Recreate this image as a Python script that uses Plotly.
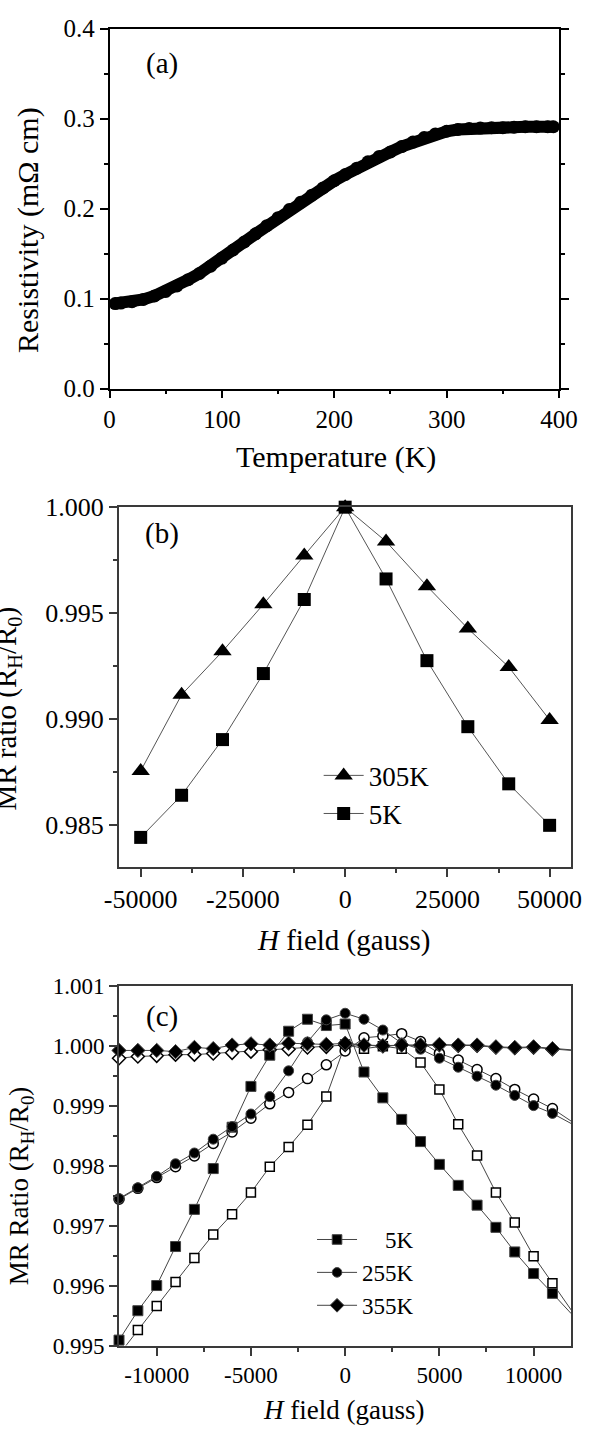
import plotly.graph_objects as go

# ---------------- data ----------------
# (a) resistivity vs temperature
temp_K = [5, 10, 20, 30, 40, 50, 60, 70, 80, 90, 100, 110, 120, 130, 140, 150, 160, 170,
          180, 190, 200, 210, 220, 230, 240, 250, 260, 270, 280, 290, 300, 310, 320, 330,
          340, 350, 360, 370, 380, 390, 395]
resistivity = [0.0945, 0.095, 0.0965, 0.099, 0.103, 0.108, 0.114, 0.121, 0.128, 0.136, 0.145,
               0.154, 0.163, 0.172, 0.181, 0.190, 0.199, 0.207, 0.215, 0.223, 0.231, 0.238,
               0.245, 0.252, 0.258, 0.263, 0.269, 0.274, 0.279, 0.283, 0.286, 0.288, 0.289,
               0.2895, 0.290, 0.290, 0.2905, 0.291, 0.291, 0.291, 0.291]

# (b) MR ratio vs field
field_b = [-50000, -40000, -30000, -20000, -10000, 0, 10000, 20000, 30000, 40000, 50000]
mr_305K = [0.98754, 0.99114, 0.99319, 0.99541, 0.99772, 1.0000, 0.99838, 0.99627, 0.99427,
           0.99245, 0.98995]
mr_5K_b = [0.98440, 0.98639, 0.98902, 0.99214, 0.99564, 1.0000, 0.99661, 0.99275, 0.98963,
           0.98693, 0.98497]
ticks_b = [-50000, -25000, 0, 25000, 50000]
ticklabels_b = ["-50000", "-25000", "0", "25000", "50000"]

# (c) MR ratio vs field, low field
field_c = [-12000, -11000, -10000, -9000, -8000, -7000, -6000, -5000, -4000, -3000, -2000,
           -1000, 0, 1000, 2000, 3000, 4000, 5000, 6000, 7000, 8000, 9000, 10000, 11000, 12000]
mr_5K_up = [0.99509, 0.99558, 0.99600, 0.99665, 0.99727, 0.99795, 0.99864, 0.99932, 0.99984,
            1.00024, 1.00044, 1.000335, 1.00036, 0.99956, 0.99913, 0.99877, 0.99840, 0.99802,
            0.99767, 0.99734, 0.99697, 0.99656, 0.99620, 0.99587, 0.99553]
mr_5K_dn = [0.99485, 0.99526, 0.99566, 0.99606, 0.99646, 0.99685, 0.99719, 0.99755, 0.99798,
            0.99831, 0.99868, 0.99915, 1.00002, 0.99995, 0.99999, 0.99995, 0.99972, 0.99927,
            0.99869, 0.99817, 0.99755, 0.99705, 0.99649, 0.99604, 0.99559]
mr_255K_up = [0.99745, 0.99763, 0.99782, 0.99803, 0.99821, 0.99844, 0.99865, 0.99886, 0.99915,
              0.99958, 1.00006, 1.00043, 1.00054, 1.00044, 1.00026, 1.00004, 0.99994, 0.99979,
              0.99964, 0.99949, 0.99934, 0.99917, 0.99900, 0.99887, 0.99870]
mr_255K_dn = [0.99744, 0.99762, 0.99780, 0.99798, 0.99816, 0.99837, 0.99856, 0.99879, 0.99903,
              0.99922, 0.99945, 0.99968, 0.99991, 1.00013, 1.00016, 1.00020, 1.00007, 0.99987,
              0.99976, 0.99960, 0.99945, 0.99927, 0.99911, 0.99895, 0.99874]
mr_355K_up = [0.99992, 0.99992, 0.99992, 0.99990, 0.99997, 0.99995, 1.00001, 1.00003, 1.00001,
              1.00004, 1.00003, 1.00002, 1.00004, 1.00001, 1.00000, 1.00001, 1.00001, 1.00002,
              1.00001, 1.00001, 0.99998, 0.99997, 0.99998, 0.99995, 0.99993]
mr_355K_dn = [0.99979, 0.99982, 0.99983, 0.99985, 0.99985, 0.99987, 0.99988, 0.99990, 0.99993,
              0.99994, 0.99997, 0.99998, 1.00001, 1.00001, 0.99999, 1.00001, 1.00000, 1.00001,
              1.00000, 1.00000, 0.99997, 0.99996, 0.99997, 0.99994, 0.99992]
ticks_c = [-10000, -5000, 0, 5000, 10000]
ticklabels_c = ["-10000", "-5000", "0", "5000", "10000"]

# ---------------- layout helpers ----------------
W, H = 613, 1435
FONT = "Liberation Serif, Times New Roman, Times, serif"


def px(x):
    return x / W


def py(y):
    return 1 - y / H


XR_C = [-12000, 12000]
YR_C = [0.995, 1.001]


def vis_sizes(xs, ys, base):
    return [base if (XR_C[0] <= x < XR_C[1] and y >= YR_C[0]) else 0 for x, y in zip(xs, ys)]


LINE_C = "#3a3a3a"
fig = go.Figure()

# ---- (a)
fig.add_trace(go.Scatter(
    x=temp_K, y=resistivity, mode="lines+markers", xaxis="x", yaxis="y",
    line=dict(color="black", width=12),
    marker=dict(symbol="circle", size=13, color="black", opacity=1),
    showlegend=False, cliponaxis=False))

# ---- (b)
fig.add_trace(go.Scatter(
    x=field_b, y=mr_305K, mode="lines+markers", name="305K", xaxis="x2", yaxis="y2",
    line=dict(color="#555", width=1),
    marker=dict(symbol="triangle-up", size=16, color="black", opacity=1),
    legend="legend", cliponaxis=False))
fig.add_trace(go.Scatter(
    x=field_b, y=mr_5K_b, mode="lines+markers", name="5K", xaxis="x2", yaxis="y2",
    line=dict(color="#555", width=1),
    marker=dict(symbol="square", size=13, color="black", opacity=1),
    legend="legend", cliponaxis=False))

# ---- (c) open (second sweep) first, filled on top
open_series = [(mr_5K_dn, "square", 9), (mr_255K_dn, "circle", 10), (mr_355K_dn, "diamond", 10)]
for ys, sym, sz in open_series:
    fig.add_trace(go.Scatter(
        x=field_c, y=ys, mode="lines+markers", xaxis="x3", yaxis="y3",
        line=dict(color="#444", width=1),
        marker=dict(symbol=sym, size=vis_sizes(field_c, ys, sz), color="white", opacity=1,
                    line=dict(color="black", width=1.5)),
        showlegend=False, cliponaxis=False))

filled_series = [(mr_5K_up, "square", 10, "\u00a0\u00a0\u00a0\u00a05K"),
                 (mr_255K_up, "circle", 10, "255K"),
                 (mr_355K_up, "diamond", 11, "355K")]
for ys, sym, sz, name in filled_series:
    fig.add_trace(go.Scatter(
        x=field_c, y=ys, mode="lines+markers", name=name, xaxis="x3", yaxis="y3",
        line=dict(color="#444", width=1),
        marker=dict(symbol=sym, size=vis_sizes(field_c, ys, sz), color="black", opacity=1),
        legend="legend2", cliponaxis=False))

common = dict(showgrid=False, zeroline=False, showline=True, ticks="outside",
              tickfont=dict(family=FONT, color="black"))

fig.update_layout(
    width=W, height=H, margin=dict(l=0, r=0, t=0, b=0),
    paper_bgcolor="white", plot_bgcolor="white",
    font=dict(family=FONT, color="black"),
    # (a)
    xaxis=dict(**common, domain=[px(101), px(576)], anchor="y", range=[0, 400], dtick=100,
               linecolor="black", linewidth=1.5, tickcolor="black", tickwidth=1.5, ticklen=8,
               mirror=True, minor=dict(dtick=50, ticks="outside", ticklen=4, tickcolor="black"),
               tickfont_size=25),
    yaxis=dict(**common, domain=[py(382), py(15)], anchor="x", range=[0, 0.4], dtick=0.1,
               tickformat=".1f", linecolor="black", linewidth=1.5, tickcolor="black",
               tickwidth=1.5, ticklen=8, mirror="allticks",
               minor=dict(dtick=0.05, ticks="outside", ticklen=4, tickcolor="black"),
               tickfont_size=25),
    # (b)
    xaxis2=dict(**common, domain=[px(111), px(589)], anchor="y2", range=[-55300, 55300],
                tickvals=ticks_b, ticktext=ticklabels_b,
                linecolor=LINE_C, linewidth=2, tickcolor=LINE_C, tickwidth=1.5, ticklen=8,
                mirror=True, minor=dict(dtick=12500, ticks="outside", ticklen=4, tickcolor=LINE_C),
                tickfont_size=26),
    yaxis2=dict(**common, domain=[py(870), py(503)], anchor="x2", range=[0.983, 1.0],
                dtick=0.005, tickformat=".3f", linecolor=LINE_C, linewidth=2, tickcolor=LINE_C,
                tickwidth=1.5, ticklen=8, mirror=True,
                minor=dict(dtick=0.0025, ticks="outside", ticklen=4, tickcolor=LINE_C),
                tickfont_size=26),
    # (c)
    xaxis3=dict(**common, domain=[px(111), px(589)], anchor="y3", range=XR_C,
                tickvals=ticks_c, ticktext=ticklabels_c,
                linecolor=LINE_C, linewidth=2, tickcolor=LINE_C, tickwidth=1.5,
                ticklen=8, mirror=True,
                minor=dict(dtick=2500, ticks="outside", ticklen=4, tickcolor=LINE_C),
                tickfont_size=23),
    yaxis3=dict(**common, domain=[py(1358), py(991)], anchor="x3", range=YR_C, dtick=0.001,
                tickformat=".3f", linecolor=LINE_C, linewidth=2, tickcolor=LINE_C, tickwidth=1.5,
                ticklen=8, mirror=True,
                minor=dict(dtick=0.0005, ticks="outside", ticklen=4, tickcolor=LINE_C),
                tickfont_size=23),
    legend=dict(x=px(322), y=py(752), xanchor="left", yanchor="top", bgcolor="rgba(0,0,0,0)",
                font=dict(family=FONT, size=27, color="black"), itemwidth=40),
    legend2=dict(x=px(315), y=py(1228), xanchor="left", yanchor="top", bgcolor="rgba(0,0,0,0)",
                 font=dict(family=FONT, size=23, color="black"), itemwidth=40),
)

annots = [
    ("(a)", 156, 50, 0, 29),
    ("(b)", 156, 530, 0, 29),
    ("(c)", 156, 1022, 0, 29),
    ("Temperature (K)", 340, 452, 0, 30),
    ("Resistivity (mΩ cm)", 14, 220, -90, 30),
    ("<i>H</i> field (gauss)", 348, 945, 0, 29),
    ("MR ratio (R<sub>H</sub>/R<sub>0</sub>)", -6, 708, -90, 29),
    ("<i>H</i> field (gauss)", 348, 1424, 0, 27),
    ("MR Ratio (R<sub>H</sub>/R<sub>0</sub>)", 7, 1195, -90, 27),
]
for text, xp, yp, ang, fs in annots:
    fig.add_annotation(text=text, x=px(xp), y=py(yp), xref="paper", yref="paper",
                       xanchor="center", yanchor="middle", showarrow=False, textangle=ang,
                       font=dict(family=FONT, size=fs, color="black"))

fig.write_html("out.html")
